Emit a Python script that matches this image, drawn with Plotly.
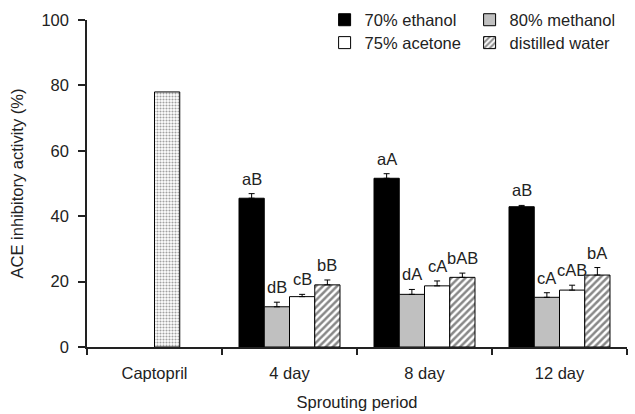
import plotly.graph_objects as go

categories = ["Captopril", "4 day", "8 day", "12 day"]
days = ["4 day", "8 day", "12 day"]

captopril_value = [78.0]

ethanol = [45.5, 51.6, 42.9]
ethanol_err = [1.4, 1.4, 0.4]
methanol = [12.3, 16.1, 15.2]
methanol_err = [1.4, 1.5, 1.4]
acetone = [15.4, 18.7, 17.4]
acetone_err = [0.7, 1.5, 1.5]
water = [19.0, 21.3, 22.0]
water_err = [1.5, 1.3, 2.3]

ethanol_lbl = ["aB", "aA", "aB"]
methanol_lbl = ["dB", "dA", "cA"]
acetone_lbl = ["cB", "cA", "cAB"]
water_lbl = ["bB", "bAB", "bA"]

FONT = "Liberation Sans, Arial, sans-serif"
FS = 16.5
W = 0.187

fig = go.Figure()

fig.add_trace(go.Bar(
    x=["Captopril"], y=captopril_value, width=W, offset=0,
    marker=dict(color="white", line=dict(color="black", width=1),
                pattern=dict(shape=".", size=3, solidity=0.4, fgcolor="#444444", bgcolor="white")),
    showlegend=False,
))

series = [
    ("70% ethanol", ethanol, ethanol_err, ethanol_lbl, -2, dict(color="black", line=dict(color="black", width=1)), "legend"),
    ("80% methanol", methanol, methanol_err, methanol_lbl, -1, dict(color="#c0c0c0", line=dict(color="black", width=1)), "legend"),
    ("75% acetone", acetone, acetone_err, acetone_lbl, 0, dict(color="white", line=dict(color="black", width=1)), "legend2"),
    ("distilled water", water, water_err, water_lbl, 1,
     dict(color="white", line=dict(color="black", width=1),
          pattern=dict(shape="/", size=5, solidity=0.5, fgcolor="#111", bgcolor="white")), "legend2"),
]

for name, vals, errs, lbls, k, mk, lg in series:
    fig.add_trace(go.Bar(
        x=days, y=vals, width=W, offset=k * W, name=name, marker=mk,
        error_y=dict(type="data", symmetric=False, array=errs, arrayminus=[0] * len(errs),
                     color="black", thickness=1, width=3),
        legend=lg,
    ))
    for i, d in enumerate(days):
        ci = categories.index(d)
        fig.add_annotation(
            x=ci + k * W + W / 2, y=vals[i] + errs[i], text=lbls[i],
            showarrow=False, yanchor="bottom", yshift=4,
            font=dict(family=FONT, size=FS, color="#222"),
        )

fig.update_layout(
    width=635, height=414,
    margin=dict(l=87, r=8, t=20, b=67, autoexpand=False),
    plot_bgcolor="white", paper_bgcolor="white",
    barmode="overlay",
    font=dict(family=FONT, size=FS, color="#222"),
    xaxis=dict(
        type="category", categoryorder="array", categoryarray=categories,
        range=[-0.5, 3.5], showline=True, linecolor="#222", linewidth=1.5,
        ticks="outside", tickson="boundaries", ticklen=6, tickcolor="#222", tickwidth=1.5,
        showgrid=False, ticklabelstandoff=10, automargin=False,
        title=dict(text="Sprouting period", standoff=16, font=dict(size=FS)),
    ),
    yaxis=dict(
        range=[0, 100], dtick=20, showline=True, linecolor="#222", linewidth=1.5,
        ticks="outside", ticklen=7, tickcolor="#222", tickwidth=1.5,
        showgrid=False, zeroline=False, ticklabelstandoff=6, automargin=False,
        title=dict(text="ACE inhibitory activity (%)", standoff=14, font=dict(size=FS)),
    ),
    legend=dict(orientation="h", x=0.44, xanchor="left", y=1.0, yanchor="middle",
                entrywidth=100, bgcolor="rgba(0,0,0,0)", font=dict(size=FS)),
    legend2=dict(orientation="h", x=0.44, xanchor="left", y=0.93, yanchor="middle",
                 entrywidth=100, bgcolor="rgba(0,0,0,0)", font=dict(size=FS)),
)

fig.write_html("out.html")
